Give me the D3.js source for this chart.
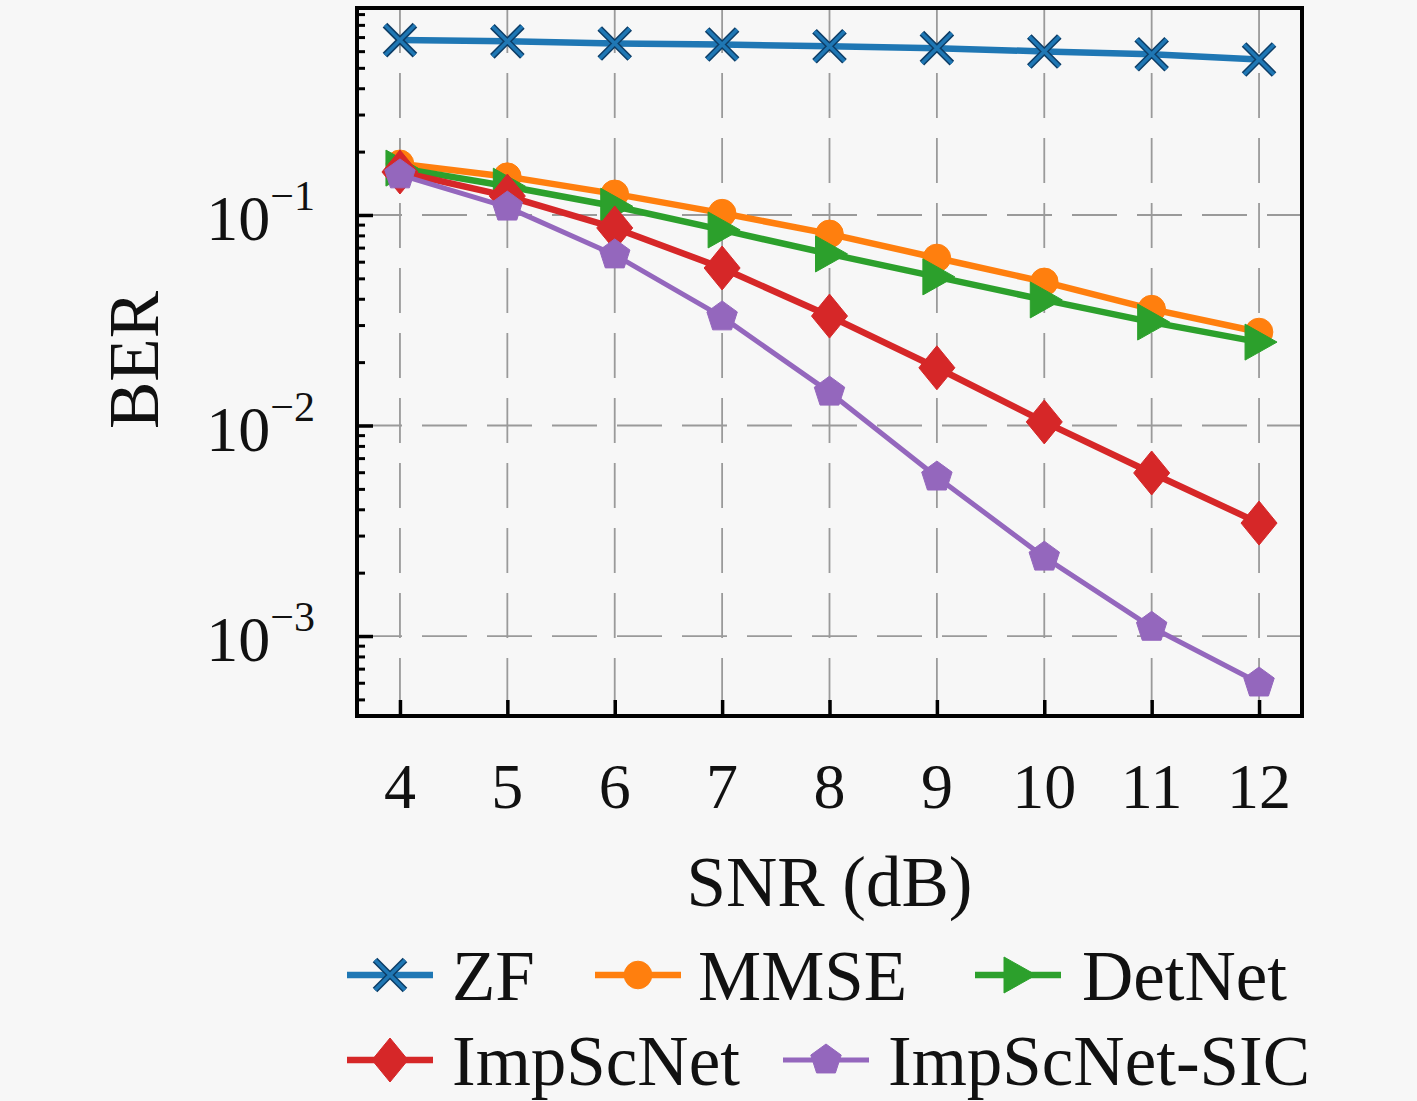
<!DOCTYPE html>
<meta charset="utf-8">
<style>
    body { margin: 0; background: #f7f7f7; }
    svg { display: block; background: #f7f7f7; }
    text { font-family: "Liberation Serif", "DejaVu Serif", serif; fill: #111; }
    .grid line { stroke: #9a9a9a; stroke-width: 1.8; stroke-dasharray: 45,20; }
</style>
<svg width="1417" height="1101"></svg>
<script src="https://d3js.org/d3.v7.min.js"></script>
<script>

    // SNR points (dB)
    var snr = [4, 5, 6, 7, 8, 9, 10, 11, 12];

    // BER per detector
    var zf      = [0.677, 0.668, 0.652, 0.645, 0.633, 0.620, 0.598, 0.580, 0.548];
    var mmse    = [0.175, 0.152, 0.126, 0.102, 0.0813, 0.0625, 0.0481, 0.0357, 0.0278];
    var detnet  = [0.167, 0.137, 0.110, 0.0849, 0.0653, 0.0508, 0.0395, 0.0310, 0.0249];
    var impsc   = [0.160, 0.123, 0.0868, 0.0560, 0.0331, 0.0188, 0.0104, 0.00595, 0.00344];
    var impsic  = [0.155, 0.109, 0.0646, 0.0328, 0.0144, 0.00569, 0.00237, 0.00110, 0.000598];

    var seriesNames = ["ZF", "MMSE", "DetNet", "ImpScNet", "ImpScNet-SIC"];
    var yTickExp = [-1, -2, -3];

    var svg = d3.select("svg"),
        margin = {top: 8, left: 357},
        width = 945,
        height = 708;

    var x = d3.scaleLinear().domain([3.6, 12.4]).range([0, width]);
    var y = d3.scaleLog().domain([4.17e-4, 0.962]).range([height, 0]);

    var g = svg.append("g")
        .attr("transform", "translate(" + margin.left + "," + margin.top + ")");

    // grid
    var grid = g.append("g").attr("class", "grid");
    grid.selectAll(".vx").data(snr).enter().append("line")
        .attr("x1", function(d) { return x(d); })
        .attr("x2", function(d) { return x(d); })
        .attr("y1", 0).attr("y2", height);
    grid.selectAll(".hy").data(yTickExp).enter().append("line")
        .attr("x1", 0).attr("x2", width)
        .attr("y1", function(d) { return y(Math.pow(10, d)); })
        .attr("y2", function(d) { return y(Math.pow(10, d)); });

    // axes (ticks inside)
    var xAxis = g.append("g")
        .attr("transform", "translate(0," + height + ")")
        .call(d3.axisBottom(x).tickValues(snr).tickSize(-16).tickFormat(""));
    xAxis.select(".domain").remove();
    xAxis.selectAll("line").attr("stroke", "#000").attr("stroke-width", 3.5);

    var minor = [];
    [-4, -3, -2, -1].forEach(function(e) {
        for (var k = 2; k <= 9; k++) {
            var v = k * Math.pow(10, e);
            if (v >= y.domain()[0] && v <= y.domain()[1]) minor.push(v);
        }
    });
    var yMinor = g.append("g")
        .call(d3.axisLeft(y).tickValues(minor).tickSize(-8).tickFormat(""));
    yMinor.select(".domain").remove();
    yMinor.selectAll("line").attr("stroke", "#000").attr("stroke-width", 3);
    var yMajor = g.append("g")
        .call(d3.axisLeft(y).tickValues(yTickExp.map(function(e) { return Math.pow(10, e); }))
            .tickSize(-16).tickFormat(""));
    yMajor.select(".domain").remove();
    yMajor.selectAll("line").attr("stroke", "#000").attr("stroke-width", 3.5);

    // tick labels
    g.selectAll(".xl").data(snr).enter().append("text")
        .attr("x", function(d) { return x(d); })
        .attr("y", height + 92)
        .attr("text-anchor", "middle")
        .attr("font-size", 64)
        .text(function(d) { return d; });

    yTickExp.forEach(function(e) {
        var t = g.append("text")
            .attr("x", -42)
            .attr("y", y(Math.pow(10, e)) + 25)
            .attr("text-anchor", "end")
            .attr("font-size", 64);
        t.append("tspan").text("10");
        t.append("tspan").attr("dy", -30).attr("font-size", 42).text("\u2212" + (-e));
    });

    // axis titles
    g.append("text")
        .attr("x", x(8))
        .attr("y", height + 190)
        .attr("text-anchor", "middle")
        .attr("font-size", 71)
        .text("SNR (dB)");
    g.append("text")
        .attr("transform", "translate(-199,352) rotate(-90)")
        .attr("text-anchor", "middle")
        .attr("font-size", 71)
        .text("BER");

    // markers
    function markerPath(kind) {
        switch (kind) {
            case "x": return "M-15,-15L15,15M-15,15L15,-15";
            case "circle": return d3.symbol(d3.symbolCircle, 600)();
            case "tri": return "M-14,-18L18,0L-14,18Z";
            case "diamond": return "M0,-22L18,0L0,22L-18,0Z";
            case "pent":
                var pts = [];
                for (var i = 0; i < 5; i++) {
                    var a = -Math.PI / 2 + i * 2 * Math.PI / 5;
                    pts.push([16 * Math.cos(a), 16 * Math.sin(a)]);
                }
                return "M" + pts.join("L") + "Z";
        }
    }

    var series = [
        {name: seriesNames[0], vals: zf,     color: "#1f77b4", marker: "x",       lw: 6.5},
        {name: seriesNames[1], vals: mmse,   color: "#ff7f0e", marker: "circle",  lw: 6.5},
        {name: seriesNames[2], vals: detnet, color: "#2ca02c", marker: "tri",     lw: 6.5},
        {name: seriesNames[3], vals: impsc,  color: "#d62728", marker: "diamond", lw: 6.5},
        {name: seriesNames[4], vals: impsic, color: "#9467bd", marker: "pent",    lw: 5}
    ];

    var line = d3.line()
        .x(function(d) { return x(d[0]); })
        .y(function(d) { return y(d[1]); });

    function drawMarker(sel, s) {
        if (s.marker === "x") {
            sel.append("path").attr("d", markerPath("x"))
                .attr("stroke", "#0d3d66").attr("stroke-width", 6.5).attr("fill", "none");
            sel.append("path").attr("d", markerPath("x"))
                .attr("stroke", s.color).attr("stroke-width", 3.5).attr("fill", "none");
        } else {
            sel.append("path").attr("d", markerPath(s.marker))
                .attr("fill", s.color).attr("stroke", s.color).attr("stroke-width", 1);
        }
    }

    var plot = g.append("g");
    series.forEach(function(s) {
        var pts = snr.map(function(v, i) { return [v, s.vals[i]]; });
        plot.append("path")
            .datum(pts)
            .attr("fill", "none")
            .attr("stroke", s.color)
            .attr("stroke-width", s.lw)
            .attr("stroke-linejoin", "round")
            .attr("d", line);
        plot.selectAll(null).data(pts).enter().append("g")
            .attr("transform", function(d) { return "translate(" + x(d[0]) + "," + y(d[1]) + ")"; })
            .each(function() { drawMarker(d3.select(this), s); });
    });

    // frame
    g.append("rect")
        .attr("width", width).attr("height", height)
        .attr("fill", "none").attr("stroke", "#000").attr("stroke-width", 4);

    // legend
    var legPos = [
        {lx: 347, ly: 975, tx: 452},
        {lx: 595, ly: 975, tx: 698},
        {lx: 975, ly: 975, tx: 1082},
        {lx: 347, ly: 1060, tx: 452},
        {lx: 783, ly: 1060, tx: 888}
    ];
    series.forEach(function(s, i) {
        var p = legPos[i];
        var lg = svg.append("g");
        lg.append("line")
            .attr("x1", p.lx).attr("x2", p.lx + 86)
            .attr("y1", p.ly).attr("y2", p.ly)
            .attr("stroke", s.color).attr("stroke-width", s.lw);
        drawMarker(lg.append("g").attr("transform", "translate(" + (p.lx + 43) + "," + p.ly + ")"), s);
        lg.append("text")
            .attr("x", p.tx).attr("y", p.ly + 25)
            .attr("font-size", 71)
            .text(s.name);
    });

</script>
